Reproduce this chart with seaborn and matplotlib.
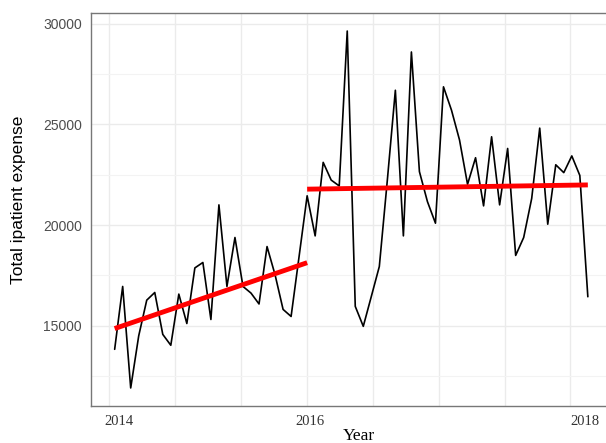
import numpy as np
import pandas as pd
import matplotlib
matplotlib.use("Agg")
import matplotlib.pyplot as plt
import seaborn as sns

# Monthly total inpatient expense, Jan 2014 .. Dec 2018
expense = [
    13830, 16950, 11910, 14500, 16270, 16650, 14570, 14030, 16570, 15110,
    17870, 18140, 15310, 21000, 16950, 19380, 16950, 16620, 16080, 18930,
    17530, 15810, 15460, 18450, 21450, 19460, 23110, 22230, 21940, 29630,
    15960, 14970, 16450, 17940, 22230, 26690, 19460, 28590, 22650, 21160,
    20090, 26860, 25700, 24220, 22020, 23340, 20950, 24380, 21000, 23800,
    18490, 19380, 21320, 24810, 20040, 22990, 22600, 23430, 22460, 16440,
]

# Fitted trend lines before and after the 2016 break (month index, value)
trend_pre_x = [0, 24]
trend_pre_y = [14860, 18130]
trend_post_x = [24, 59]
trend_post_y = [21780, 21990]

# Axis labels
year_labels = ["2014", "2016", "2018"]
year_label_pos = [0.5, 24.4, 58.7]
x_grid = [-0.71, 7.51, 15.73, 23.95, 32.17, 40.39, 48.61, 56.83]
y_major = [15000, 20000, 25000, 30000]
y_minor = [12500, 17500, 22500, 27500]

df = pd.DataFrame({"month": np.arange(len(expense)), "expense": expense})
pre = pd.DataFrame({"month": trend_pre_x, "expense": trend_pre_y})
post = pd.DataFrame({"month": trend_post_x, "expense": trend_post_y})

sns.set_theme(style="white")
fig = plt.figure(figsize=(6.06, 4.43), dpi=100)
W, H = 606, 443
ax = fig.add_axes([91 / W, 1 - 405.5 / H, 520.5 / W, (405.5 - 13.3) / H])

sns.lineplot(data=df, x="month", y="expense", ax=ax, color="black",
             linewidth=1.2, zorder=3)
sns.lineplot(data=pre, x="month", y="expense", ax=ax, color="#ff0000",
             linewidth=3.5, zorder=4, solid_capstyle="butt")
sns.lineplot(data=post, x="month", y="expense", ax=ax, color="#ff0000",
             linewidth=3.5, zorder=4, solid_capstyle="butt")

ax.set_xlim(-2.95, 61.95)
ax.set_ylim(11040, 30510)

# grid
ax.set_xticks(x_grid, minor=True)
ax.set_xticks(year_label_pos)
ax.set_xticklabels(year_labels, family="Liberation Serif", fontsize=10.5,
                   color="#333333")
ax.set_yticks(y_major)
ax.set_yticklabels([str(v) for v in y_major], family="Liberation Sans",
                   fontsize=10, color="#4d4d4d")
ax.set_yticks(y_minor, minor=True)
ax.grid(False)
ax.grid(True, which="minor", axis="x", color="#ebebeb", linewidth=1.0, zorder=0)
ax.grid(True, which="major", axis="y", color="#ebebeb", linewidth=1.0, zorder=0)
ax.grid(True, which="minor", axis="y", color="#f3f3f3", linewidth=0.8, zorder=0)
ax.tick_params(axis="both", which="both", length=0)
ax.tick_params(axis="x", pad=7)
ax.tick_params(axis="y", pad=6.5)

for side in ["left", "bottom", "top"]:
    ax.spines[side].set_visible(True)
    ax.spines[side].set_color("#777777")
    ax.spines[side].set_linewidth(1.0)
ax.spines["right"].set_visible(False)

ax.set_xlabel("Year", family="Liberation Serif", fontsize=12.5, color="black")
ax.set_ylabel("Total ipatient expense", family="Liberation Sans",
              fontsize=12.5, color="black")
ax.xaxis.set_label_coords(0.514, -0.058)
ax.yaxis.set_label_coords(-0.125, 0.524)

fig.savefig("out.png", dpi=100)
